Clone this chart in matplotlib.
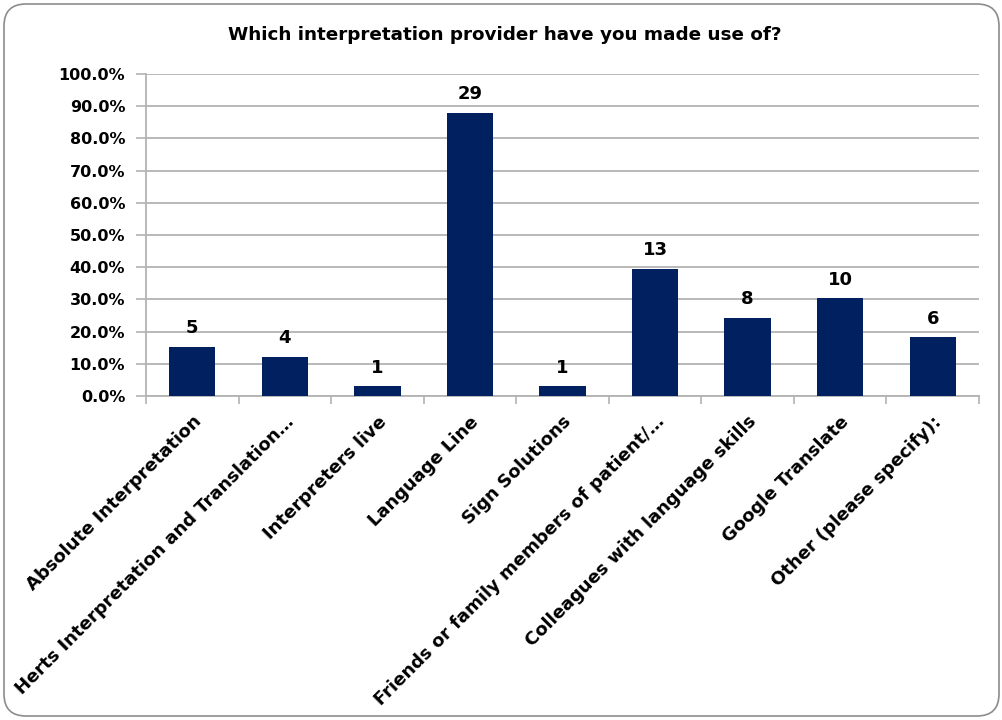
import matplotlib.pyplot as plt
from matplotlib.patches import FancyBboxPatch
from matplotlib.ticker import FuncFormatter
import numpy as np

providers = ['Absolute Interpretation', 'Herts Interpretation and Translation\u2026',
             'Interpreters live', 'Language Line', 'Sign Solutions',
             'Friends or family members of patient/\u2026', 'Colleagues with language skills',
             'Google Translate', 'Other (please specify):']
percent = [15.2, 12.1, 3.0, 87.9, 3.0, 39.4, 24.2, 30.3, 18.2]
counts = [5, 4, 1, 29, 1, 13, 8, 10, 6]

bar_color = '#002060'
grid_color = '#b3b3b3'

fig = plt.figure(figsize=(10.03, 7.2), dpi=100)

# rounded frame drawn in pixel units
bg = fig.add_axes([0, 0, 1, 1])
bg.set_xlim(0, 1003)
bg.set_ylim(0, 720)
bg.axis('off')
frame = FancyBboxPatch((4, 4), 995, 712, boxstyle='round,pad=0,rounding_size=22',
                       facecolor='white', edgecolor='#8c8c8c', linewidth=1.2)
bg.add_patch(frame)

ax = fig.add_axes([146 / 1003, 1 - 396 / 720, (979 - 146) / 1003, (396 - 74) / 720])
ax.set_facecolor('none')
x = np.arange(len(providers))
ax.bar(x, percent, width=0.5, color=bar_color, zorder=3)

for xi, p, c in zip(x, percent, counts):
    ax.annotate(str(c), (xi, p), xytext=(0, 7), textcoords='offset points',
                ha='center', va='bottom', fontsize=13, fontweight='bold')

ax.set_xlim(-0.5, len(providers) - 0.5)
ax.set_ylim(0, 100)
ax.set_yticks(np.arange(0, 101, 10))
ax.yaxis.set_major_formatter(FuncFormatter(lambda v, pos: f'{v:.1f}%'))
ax.yaxis.grid(True, color=grid_color, linewidth=1.3, zorder=0)

ax.set_xticks(np.arange(-0.5, len(providers), 1.0))
ax.set_xticklabels([])
ax.set_xticks(x, minor=True)
ax.set_xticklabels(providers, minor=True, rotation=45, ha='right', va='top',
                   rotation_mode='anchor', fontsize=13, fontweight='bold')
ax.tick_params(axis='x', which='minor', length=0, pad=12)
ax.tick_params(axis='x', which='major', length=6, color=grid_color, width=1.2)
ax.tick_params(axis='y', length=7, color=grid_color, width=1.2, labelsize=11.5, pad=8)
for lab in ax.get_yticklabels():
    lab.set_fontweight('bold')

for s in ['top', 'right']:
    ax.spines[s].set_visible(False)
for s in ['left', 'bottom']:
    ax.spines[s].set_color(grid_color)
    ax.spines[s].set_linewidth(1.3)

fig.text(505 / 1003, 1 - 35 / 720, 'Which interpretation provider have you made use of?',
         ha='center', va='center', fontsize=13.2, fontweight='bold')

fig.savefig('out.png', dpi=100)
